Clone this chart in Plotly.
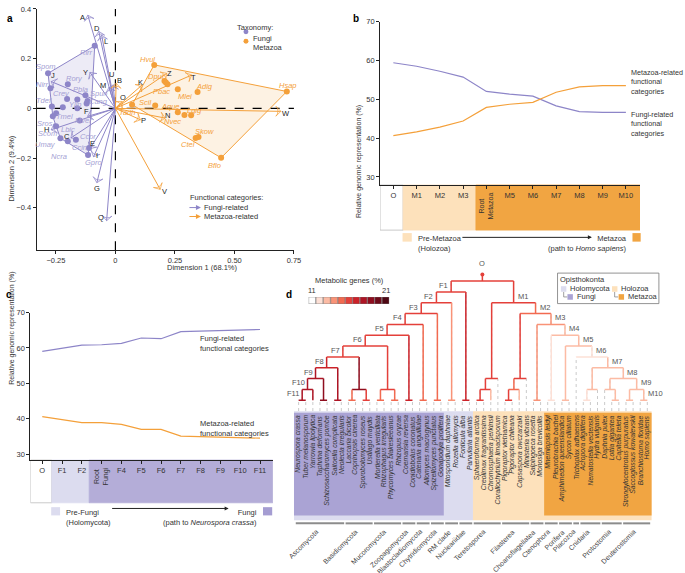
import plotly.graph_objects as go

# Abbildung: Biplot (a), Linien (b, c), Stammbaum (d)

W, H = 685, 573
FONT = "Liberation Sans, Arial, sans-serif"
PURPLE = "#8d85c8"
ORANGE = "#f4a03a"
TXT = "#333333"
FS = 7.5


def px(x):
    return x / W


def py(y):
    return 1 - y / H


# ---------------- Daten Panel a ----------------
fungi_code = ["Rirr", "Spom", "Nirr", "Rory", "Crev", "Spun", "Pbla", "Cang", "Amac", "Tdef", "Ylip",
              "Tmel", "Mver", "Sros", "Umay", "Ncra", "Ccin", "Lbic", "Ccor", "Gpro", "Scom"]
fungi_d1 = [-0.087, -0.283, -0.273, -0.200, -0.203, -0.160, -0.126, -0.117, -0.121, -0.267, -0.221,
            -0.249, -0.150, -0.249, -0.231, -0.200, -0.166, -0.263, -0.111, -0.115, -0.160]
fungi_d2 = [0.252, 0.141, 0.081, 0.097, 0.038, 0.036, 0.053, 0.030, 0.020, 0.008, 0.005,
            -0.020, -0.049, -0.072, -0.120, -0.132, -0.126, -0.032, -0.159, -0.188, 0.000]

met_code = ["Hvul", "Hsap", "Bflo", "Skow", "Ctel", "Dpul", "Spur", "Pbac", "Mlei", "Adig", "Scil",
            "Tadh", "Aque", "Nvec", "Lgig"]
met_d1 = [0.163, 0.720, 0.444, 0.349, 0.337, 0.206, 0.219, 0.212, 0.262, 0.345, 0.167,
          0.070, 0.262, 0.290, 0.318]
met_d2 = [0.175, 0.068, -0.199, -0.115, -0.119, 0.110, 0.097, 0.104, 0.077, 0.066, 0.012,
          0.015, -0.016, -0.027, -0.028]

fungi_lab = ["Rirr", "Spom", "Nirr", "Rory", "Crev", "Pbla", "Spun", "Cang", "Tdef", "Ylip", "Tmel",
             "Mver", "Sros", "Scom", "Lbic", "Ccor", "Umay", "Ccin", "Ncra", "Gpro"]
fungi_lab_x = [-0.122, -0.291, -0.308, -0.173, -0.227, -0.145, -0.069, -0.069, -0.298, -0.166, -0.215,
               -0.135, -0.294, -0.284, -0.200, -0.117, -0.294, -0.152, -0.238, -0.090]
fungi_lab_y = [0.224, 0.170, 0.098, 0.120, 0.061, 0.077, 0.061, 0.028, 0.032, 0.015, -0.032,
               -0.048, -0.059, -0.103, -0.086, -0.112, -0.145, -0.156, -0.195, -0.216]

met_lab = ["Hvul", "Hsap", "Dpul", "Pbac", "Adig", "Mlei", "Scil", "Aque", "Lgig", "Tadh", "Nvec",
           "Skow", "Ctel", "Bflo"]
met_lab_x = [0.133, 0.723, 0.170, 0.195, 0.373, 0.292, 0.126, 0.230, 0.334, 0.049, 0.240,
             0.373, 0.303, 0.417]
met_lab_y = [0.197, 0.092, 0.130, 0.068, 0.088, 0.048, 0.025, 0.008, -0.008, -0.016, -0.052,
             -0.092, -0.145, -0.228]

fun_arrow = ["A", "D", "L", "Y", "J", "M", "U", "F", "H", "C", "E", "I", "G", "Q"]
fun_arrow_x = [-0.116, -0.070, -0.058, -0.107, -0.270, -0.027, -0.010, -0.117, -0.270, -0.187,
               -0.107, -0.092, -0.078, -0.037]
fun_arrow_y = [0.375, 0.310, 0.295, 0.145, 0.108, 0.085, 0.095, -0.032, -0.086, -0.119,
               -0.162, -0.195, -0.299, -0.452]
met_arrow = ["B", "O", "K", "Z", "T", "W", "N", "P", "V"]
met_arrow_x = [0.003, 0.028, 0.112, 0.216, 0.320, 0.695, 0.209, 0.105, 0.188]
met_arrow_y = [0.101, 0.028, 0.094, 0.141, 0.134, -0.012, -0.039, -0.046, -0.326]

# Versatz der Pfeil-Buchstaben (Pixel)
fun_arrow_dx = [-5, -2, 4, -4, 2, -6, -2, -1, -5, -4, 3, 3, 0, -6]
fun_arrow_dy = [-2, 3, -6, 0, 6, 2, 10, 5, 0, 1, 5, 1, -6, 3]
met_arrow_dx = [3, 1, -2, 3, 2, 5, 2, 3, 4]
met_arrow_dy = [3, 4, 3, 0, -2, -2, 3, -1, -2]

# ---------------- Daten Panel b und c ----------------
b_nodes = ["O", "M1", "M2", "M3", "Root Metazoa", "M5", "M6", "M7", "M8", "M9", "M10"]
b_fungi = [59.4, 58.5, 57.2, 55.7, 52.0, 51.3, 50.8, 48.3, 46.8, 46.6, 46.6]
b_metazoa = [40.6, 41.6, 42.8, 44.4, 47.9, 48.7, 49.2, 51.8, 53.2, 53.5, 53.5]

c_nodes = ["O", "F1", "F2", "Root Fungi", "F4", "F5", "F6", "F7", "F8", "F9", "F10", "F11"]
c_fungi = [59.0, 60.0, 60.8, 60.9, 61.3, 62.8, 62.6, 64.6, 64.8, 64.9, 65.0, 65.2]
c_metazoa = [40.6, 39.7, 38.9, 38.9, 38.4, 37.0, 37.0, 35.1, 34.9, 34.8, 34.7, 34.5]

# ---------------- Daten Panel d ----------------
leaf_code = ["Ncra", "Tmel", "Ylip", "Tdef", "Spom", "Scom", "Nirr", "Lbic", "Ccin", "Sros", "Umay",
             "Mver", "Rirr", "Pbla", "Rory", "Crev", "Ccor", "Cang", "Amac", "Spun", "Gpro",
             "Mdap", "Rall", "Falb", "Patl", "Sarc", "Cfra", "Cper", "Clim", "Pvie", "Pchi",
             "Cowc", "Mvib", "Salp", "Mbre", "Mlei", "Pbac", "Aque", "Scil", "Tadh", "Adig",
             "Nvec", "Hvul", "Dpul", "Lgig", "Ctel", "Spur", "Skow", "Bflo", "Hsap"]
leaf_name = ["Neurospora crassa", "Tuber melanosporum", "Yarrowia lipolytica", "Taphrina deformans",
             "Schizosaccharomyces pombe", "Saitoella complicata", "Neolecta irregularis",
             "Laccaria bicolor", "Coprinopsis cinerea", "Sporobolomyces roseus", "Ustilago maydis",
             "Mortierella verticillata", "Rhizophagus irregularis", "Phycomyces blakesleeanus",
             "Rhizopus oryzae", "Coemansia reversa", "Conidiobolus coronatus", "Catenaria anguillulae",
             "Allomyces macrogynus", "Spizellomyces punctatus", "Gonapodya prolifera",
             "Mitosporidium daphniae", "Rozella allomycis", "Fonticula alba", "Parvularia atlantis",
             "Sphaeroforma arctica", "Creolimax fragrantissima", "Chromosphaera perkinsii",
             "Corallochytrium limacisporum", "Pigoraptor vietnamica", "Pigoraptor chileana",
             "Capsaspora owczarzaki", "Ministeria vibrans", "Salpingoeca rosetta", "Monosiga brevicollis",
             "Mnemiopsis leidyi", "Pleurobrachia bachei", "Amphimedon queenslandica", "Sycon ciliatum",
             "Trichoplax adhaerens", "Acropora digitifera", "Nematostella vectensis", "Hydra vulgaris",
             "Daphnia pulex", "Lottia gigantea", "Capitella teleta", "Strongylocentrotus purpuratus",
             "Saccoglossus kowalevskii", "Branchiostoma floridae", "Homo sapiens"]
leaf_pct = [18, 18, 18, 19, 19, 18, 18, 16, 16, 17, 17, 16, 16, 16, 16, 17, 17, 16, 16, 16, 16,
            14, 14, 15, 15, 14, 14, 13, 12, 13, 13, 13, 12, 13, 13,
            12, 12, 12, 12, 12, 12, 12, 12, 12, 12, 12, 12, 12, 12, 12]

node_name = ["F11", "F10", "tsp", "F9", "snr", "F8", "agar", "ustil", "basi", "F7", "mort", "mucr",
             "muco", "F6", "zoop", "F5", "blas", "F4", "chyt", "F3", "rm", "F2", "nucl", "F1",
             "ich", "ter2", "tere", "pig", "fil2", "fila", "M10", "amb", "M9", "lc", "prot", "M8",
             "ant", "cnid", "M7", "M6", "pori", "M5", "cten", "M4", "chno", "M3", "M2", "M1", "O"]
node_left = ["Ncra", "F11", "Tdef", "F10", "Scom", "F9", "Lbic", "Sros", "agar", "F8", "Mver", "Pbla",
             "mort", "F7", "Crev", "F6", "Cang", "F5", "Spun", "F4", "Mdap", "F3", "Falb", "F2",
             "Sarc", "ich", "ter2", "Pvie", "pig", "fil2", "Bflo", "Spur", "amb", "Lgig", "Dpul", "prot",
             "Adig", "ant", "cnid", "Tadh", "Aque", "pori", "Mlei", "cten", "Salp", "chno", "fila", "tere", "F1"]
node_right = ["Tmel", "Ylip", "Spom", "tsp", "Nirr", "snr", "Ccin", "Umay", "ustil", "basi", "Rirr", "Rory",
              "mucr", "muco", "Ccor", "zoop", "Amac", "blas", "Gpro", "chyt", "Rall", "rm", "Patl", "nucl",
              "Cfra", "Cper", "Clim", "Pchi", "Cowc", "Mvib", "Hsap", "Skow", "M10", "Ctel", "lc", "M9",
              "Nvec", "Hvul", "M8", "M7", "Scil", "M6", "Pbac", "M5", "Mbre", "M4", "M3", "M2", "M1"]
node_pct = [18, 18, 19, 18, 18, 17, 15, 16, 19, 16, 15, 15,
            16, 16, 17, 16, 15, 16, 15, 16, 14, 16, 17, 16,
            16, 16, 16, 16, 15, 16, 13, 13, 13, 13, 13, 13,
            12, 13, 13, 12, 13, 13, 12, 13, 14, 14, 15, 16, 16]

legend_pct = [11, 12, 13, 14, 15, 16, 17, 18, 19, 20, 21]
reds = ["#ffffff", "#fde0d6", "#fcbba4", "#f99377", "#f26a50", "#e4403a",
        "#cc2229", "#ae1525", "#8f0e1f", "#6e0a19", "#4e0713"]

groups = ["Ascomycota", "Basidiomycota", "Mucoromycota", "Zoopagomycota", "Blastocladiomycota",
          "Chytridiomycota", "RM clade", "Nucleariidae", "Teretosporea", "Filasterea",
          "Choanoflagellatea", "Ctenophora", "Porifera", "Placozoa", "Cnidaria", "Protostomia",
          "Deuterostomia"]
group_first = [0, 7, 11, 15, 17, 19, 21, 23, 25, 29, 33, 35, 37, 39, 40, 43, 46]
group_last = [6, 10, 14, 16, 18, 20, 22, 24, 28, 32, 34, 36, 38, 39, 42, 45, 49]


def red(v):
    return reds[int(v) - 11]


def arrow(x0, x1, y, col, size=0.8):
    # waagrechter Pfeil von x0 nach x1 (Pixel)
    return dict(x=px(x1), y=py(y), xref="paper", yref="paper", ax=x0 - x1, ay=0,
                axref="pixel", ayref="pixel", text="", showarrow=True, arrowhead=2,
                arrowsize=size, arrowwidth=1, arrowcolor=col)


def note(x, y, text, **kw):
    d = dict(x=px(x), y=py(y), xref="paper", yref="paper", text=text, showarrow=False,
             font=dict(size=FS, color=TXT))
    d.update(kw)
    return d


fig = go.Figure()
ann = []
shapes = []

# ================= Panel a =================
def hull(xs, ys):
    pts = sorted(set(zip(xs, ys)))

    def cross(o, a, b):
        return (a[0] - o[0]) * (b[1] - o[1]) - (a[1] - o[1]) * (b[0] - o[0])
    lower, upper = [], []
    for p in pts:
        while len(lower) >= 2 and cross(lower[-2], lower[-1], p) <= 0:
            lower.pop()
        lower.append(p)
    for p in reversed(pts):
        while len(upper) >= 2 and cross(upper[-2], upper[-1], p) <= 0:
            upper.pop()
        upper.append(p)
    h = lower[:-1] + upper
    return [p[0] for p in h], [p[1] for p in h]


for xs, ys, col, fill in [(fungi_d1, fungi_d2, PURPLE, "rgba(141,133,200,0.16)"),
                          (met_d1, met_d2, ORANGE, "rgba(244,160,58,0.14)")]:
    hx, hy = hull(xs, ys)
    fig.add_trace(go.Scatter(x=hx, y=hy, mode="lines", fill="toself", fillcolor=fill,
                             line=dict(color=col, width=1), hoverinfo="skip", showlegend=False))

# Nulllinien
fig.add_trace(go.Scatter(x=[0, 0], y=[-0.571, 0.4], mode="lines",
                         line=dict(color="black", width=1.2, dash="dash"), showlegend=False))
fig.add_trace(go.Scatter(x=[-0.331, 0.75], y=[0, 0], mode="lines",
                         line=dict(color="black", width=1.2, dash="dash"), showlegend=False))

for xs, ys, col in [(fun_arrow_x, fun_arrow_y, PURPLE), (met_arrow_x, met_arrow_y, ORANGE)]:
    for tx, ty in zip(xs, ys):
        fig.add_trace(go.Scatter(x=[0, tx], y=[0, ty], mode="lines+markers",
                                 line=dict(color=col, width=1),
                                 marker=dict(symbol="arrow-wide-open", size=[0, 7], angleref="previous",
                                             color=col, line=dict(color=col, width=1)),
                                 showlegend=False, hoverinfo="skip"))

fig.add_trace(go.Scatter(x=fungi_d1, y=fungi_d2, mode="markers", text=fungi_code,
                         marker=dict(color=PURPLE, size=6), showlegend=False))
fig.add_trace(go.Scatter(x=met_d1, y=met_d2, mode="markers", text=met_code,
                         marker=dict(color=ORANGE, size=6), showlegend=False))

for t, x, y in zip(fungi_lab, fungi_lab_x, fungi_lab_y):
    ann.append(dict(x=x, y=y, xref="x", yref="y", text="<i>%s</i>" % t, showarrow=False,
                    font=dict(size=FS, color="#a59fd4")))
for t, x, y in zip(met_lab, met_lab_x, met_lab_y):
    ann.append(dict(x=x, y=y, xref="x", yref="y", text="<i>%s</i>" % t, showarrow=False,
                    font=dict(size=FS, color="#f4a03a")))
for t, x, y, dx, dy in zip(fun_arrow + met_arrow, fun_arrow_x + met_arrow_x, fun_arrow_y + met_arrow_y,
                           fun_arrow_dx + met_arrow_dx, fun_arrow_dy + met_arrow_dy):
    ann.append(dict(x=x, y=y, xref="x", yref="y", text=t, showarrow=False, xshift=dx, yshift=dy,
                    font=dict(size=FS, color="#222")))

# Legenden Panel a
ann.append(note(237, 17, "Taxonomy:", xanchor="left"))
for i, (t, c) in enumerate([("Fungi", PURPLE), ("Metazoa", ORANGE)]):
    yy = 28 + 9.5 * i
    shapes.append(dict(type="circle", xref="paper", yref="paper", x0=px(246), x1=px(251),
                       y0=py(yy + 2.5), y1=py(yy - 2.5), fillcolor=c, line=dict(width=0)))
    ann.append(note(254, yy, t, xanchor="left"))
ann.append(note(190, 195, "Functional categories:", xanchor="left"))
for i, (t, c) in enumerate([("Fungi-related", PURPLE), ("Metazoa-related", ORANGE)]):
    yy = 205 + 9 * i
    ann.append(arrow(190, 203, yy, c, 1))
    ann.append(note(204, yy, t, xanchor="left"))
ann.append(note(167, 265, "Dimension 1 (68.1%)"))
ann.append(note(5, 130, "Dimension 2 (9.4%)", textangle=-90))

# ================= Panel b =================
xb = list(range(len(b_nodes)))
fig.add_trace(go.Scatter(x=xb, y=b_fungi, mode="lines", line=dict(color=PURPLE, width=1.2),
                         xaxis="x2", yaxis="y2", showlegend=False))
fig.add_trace(go.Scatter(x=xb, y=b_metazoa, mode="lines", line=dict(color=ORANGE, width=1.2),
                         xaxis="x2", yaxis="y2", showlegend=False))
for x0, x1, col in [(-0.57, 0.42, "white"), (0.42, 3.55, "#fde1bb"), (3.55, 10.61, "#f1a542")]:
    shapes.append(dict(type="rect", xref="x2", yref="paper", x0=x0, x1=x1, y0=py(227.7), y1=py(182.3),
                       fillcolor=col, line=dict(color="#bbbbbb" if col == "white" else col, width=0.8),
                       layer="below"))
ann.append(dict(x=4, y=py(188), xref="x2", yref="paper", text="Root<br>Metazoa", textangle=-90,
                showarrow=False, yanchor="top", font=dict(size=7, color=TXT)))
ann.append(note(635, 62, "Metazoa-related<br>functional<br>categories", align="left",
                xanchor="left", yanchor="top", font=dict(size=7.2, color=TXT)))
ann.append(note(635, 105, "Fungi-related<br>functional<br>categories", align="left",
                xanchor="left", yanchor="top", font=dict(size=7.2, color=TXT)))
ann.append(note(363, 100, "Relative genomic representation (%)", textangle=-90,
                font=dict(size=7, color=TXT)))
shapes.append(dict(type="rect", xref="paper", yref="paper", x0=px(406.7), x1=px(416), y0=py(239.3),
                   y1=py(230.7), fillcolor="#fde1bb", line=dict(width=0)))
shapes.append(dict(type="rect", xref="paper", yref="paper", x0=px(639), x1=px(647.3), y0=py(239.3),
                   y1=py(230.7), fillcolor="#f1a542", line=dict(width=0)))
ann.append(note(420, 230, "Pre-Metazoa<br>(Holozoa)", align="left", xanchor="left", yanchor="top"))
ann.append(note(635.5, 230, "Metazoa<br>(path to <i>Homo sapiens</i>)", align="right",
                xanchor="right", yanchor="top"))
ann.append(arrow(467, 598, 235, "#222"))

# ================= Panel c =================
xc = list(range(len(c_nodes)))
fig.add_trace(go.Scatter(x=xc, y=c_fungi, mode="lines", line=dict(color=PURPLE, width=1.2),
                         xaxis="x3", yaxis="y3", showlegend=False))
fig.add_trace(go.Scatter(x=xc, y=c_metazoa, mode="lines", line=dict(color=ORANGE, width=1.2),
                         xaxis="x3", yaxis="y3", showlegend=False))
for x0, x1, col in [(-0.6, 0.48, "white"), (0.48, 2.37, "#dcdcef"), (2.37, 11.65, "#b4add8")]:
    shapes.append(dict(type="rect", xref="x3", yref="paper", x0=x0, x1=x1, y0=py(502.3), y1=py(459.3),
                       fillcolor=col, line=dict(color="#bbbbbb" if col == "white" else col, width=0.8),
                       layer="below"))
ann.append(dict(x=3, y=py(465), xref="x3", yref="paper", text="Root<br>Fungi", textangle=-90,
                showarrow=False, yanchor="top", font=dict(size=7, color=TXT)))
ann.append(note(200, 330, "Fungi-related<br>functional categories", align="left",
                xanchor="left", yanchor="top"))
ann.append(note(200, 416, "Metazoa-related<br>functional categories", align="left",
                xanchor="left", yanchor="top"))
ann.append(note(6, 385, "Relative genomic representation (%)", textangle=-90,
                font=dict(size=7, color=TXT)))
shapes.append(dict(type="rect", xref="paper", yref="paper", x0=px(51.7), x1=px(60.7), y0=py(515),
                   y1=py(506.7), fillcolor="#dcdcef", line=dict(width=0)))
shapes.append(dict(type="rect", xref="paper", yref="paper", x0=px(265.7), x1=px(275), y0=py(515),
                   y1=py(506.7), fillcolor="#a59dd2", line=dict(width=0)))
ann.append(note(65, 506, "Pre-Fungi<br>(Holomycota)", align="left", xanchor="left", yanchor="top"))
ann.append(note(262, 506, "Fungi<br>(path to <i>Neurospora crassa</i>)", align="right",
                xanchor="right", yanchor="top"))
ann.append(arrow(113, 231, 508, "#222"))

# ================= Panel d =================
pos = {c: (i, -1) for i, c in enumerate(leaf_code)}
pct = {c: v for c, v in zip(leaf_code, leaf_pct)}
segs = {}
dotted_x, dotted_y = [], []


def add_seg(col, xs, ys):
    sx, sy = segs.setdefault(col, ([], []))
    sx.extend(xs + [None])
    sy.extend(ys + [None])


for n, l, r, v in zip(node_name, node_left, node_right, node_pct):
    (xl, hl), (xr, hr) = pos[l], pos[r]
    h = max(hl, hr) + 1
    pos[n] = ((xl + xr) / 2, h)
    pct[n] = v
    add_seg(red(v), [xl, xr], [h, h])
    for ch, (xx, hh) in [(l, (xl, hl)), (r, (xr, hr))]:
        dotted_x.extend([xx, xx, None])
        dotted_y.extend([hh, h, None])
        if hh < 0:
            if h > 0 and pct[ch] > 12:
                add_seg(red(pct[ch]), [xx, xx], [0, h])
        else:
            add_seg(red(pct[ch]), [xx, xx], [hh, h])

# Wurzel
rx, rh = pos["O"]
add_seg(red(pct["O"]), [rx, rx], [rh, rh + 0.6])

fig.add_trace(go.Scatter(x=dotted_x, y=dotted_y, mode="lines", line=dict(color="#bdbdbd", width=0.8, dash="dot"),
                         xaxis="x4", yaxis="y4", showlegend=False, hoverinfo="skip"))
for col, (sx, sy) in segs.items():
    if col == "#ffffff":
        continue
    fig.add_trace(go.Scatter(x=sx, y=sy, mode="lines", line=dict(color=col, width=1.5),
                             xaxis="x4", yaxis="y4", showlegend=False, hoverinfo="skip"))
fig.add_trace(go.Scatter(x=[rx], y=[rh + 0.6], mode="markers", marker=dict(symbol="circle", size=4,
                         color=red(pct["O"])), xaxis="x4", yaxis="y4", showlegend=False))

for n in node_name:
    if n == "O":
        ann.append(dict(x=rx, y=rh + 1.0, xref="x4", yref="y4", text="O", showarrow=False,
                        yanchor="bottom", font=dict(size=FS, color="#555")))
    elif n[0] in "FM" and n[1:].isdigit():
        x, h = pos[n]
        left = n[0] == "F"
        ann.append(dict(x=x, y=h, xref="x4", yref="y4", text=n, showarrow=False,
                        xanchor="right" if left else "left", yanchor="bottom",
                        xshift=-1 if left else 2, yshift=0, font=dict(size=FS, color="#555")))

# Hintergrund-Boxen
shapes += [
    dict(type="rect", xref="x4", yref="paper", x0=-0.65, x1=24.5, y0=py(520), y1=py(410),
         fillcolor="#dcdcef", line=dict(width=0), layer="below"),
    dict(type="rect", xref="x4", yref="paper", x0=-0.65, x1=20.4, y0=py(515), y1=py(411.5),
         fillcolor="#aaa3d4", line=dict(width=0), layer="below"),
    dict(type="rect", xref="x4", yref="paper", x0=24.5, x1=49.6, y0=py(520), y1=py(410),
         fillcolor="#fde1bb", line=dict(width=0), layer="below"),
    dict(type="rect", xref="x4", yref="paper", x0=34.5, x1=49.6, y0=py(515), y1=py(411.5),
         fillcolor="#f1a542", line=dict(width=0), layer="below"),
]
for i, nm in enumerate(leaf_name):
    ann.append(dict(x=i, y=py(412), xref="x4", yref="paper", text="<i>%s</i>" % nm, textangle=-90,
                    showarrow=False, yanchor="top", font=dict(size=6.8, color="#333")))

for g, a, b in zip(groups, group_first, group_last):
    shapes.append(dict(type="line", xref="x4", yref="paper", x0=a - 0.4, x1=b + 0.4, y0=py(523), y1=py(523),
                       line=dict(color="#8c8c8c", width=2)))
    ann.append(dict(x=(a + b) / 2 + 0.5, y=py(525), xref="x4", yref="paper", text=g, textangle=-45,
                    showarrow=False, xanchor="right", yanchor="top", font=dict(size=7, color="#444")))

# Legende Stoffwechselgene
fig.add_trace(go.Scatter(x=legend_pct, y=[0] * len(legend_pct), mode="markers",
                         marker=dict(symbol="square", size=7, color=[red(v) for v in legend_pct],
                                     line=dict(color="#777", width=0.6)),
                         xaxis="x5", yaxis="y5", showlegend=False))
for v in (legend_pct[0], legend_pct[-1]):
    ann.append(dict(x=v, y=py(288.5), xref="x5", yref="paper", text=str(v), showarrow=False,
                    font=dict(size=FS, color=TXT)))
ann.append(note(353, 278, "Metabolic genes (%)"))

# Legende Opisthokonta
shapes.append(dict(type="rect", xref="paper", yref="paper", x0=px(563.3), x1=px(665.7), y0=py(301.7),
                   y1=py(271), line=dict(color="#777", width=0.8)))
ann.append(note(613.5, 277.7, "Opisthokonta"))
for x0, yy, col, t in [(566.7, 287, "#dcdcef", "Holomycota"), (573.3, 295, "#aaa3d4", "Fungi"),
                       (618.3, 287, "#fde1bb", "Holozoa"), (625, 295, "#f1a542", "Metazoa")]:
    shapes.append(dict(type="rect", xref="paper", yref="paper", x0=px(x0), x1=px(x0 + 5.5),
                       y0=py(yy + 2.8), y1=py(yy - 2.8), fillcolor=col, line=dict(width=0)))
    ann.append(note(x0 + 7.5, yy, t, xanchor="left"))
for x0 in (569.5, 621):
    shapes.append(dict(type="path", xref="paper", yref="paper",
                       path="M %f %f L %f %f L %f %f" % (px(x0), py(290), px(x0), py(295), px(x0 + 3.5), py(295)),
                       line=dict(color="#777", width=0.7)))

# Panel-Buchstaben
for t, x, y in [("a", 5, 7), ("b", 360, 7), ("c", 4, 293), ("d", 292, 293)]:
    ann.append(note(x, y, "<b>%s</b>" % t, font=dict(size=10, color="black")))

ax_common = dict(showgrid=False, zeroline=False, linecolor="#222", linewidth=1, ticks="outside",
                 ticklen=3, tickcolor="#222", tickfont=dict(size=FS, color=TXT))

fig.update_layout(
    width=W, height=H, margin=dict(l=0, r=0, t=0, b=0), paper_bgcolor="white", plot_bgcolor="white",
    font=dict(family=FONT, size=FS, color=TXT), showlegend=False,
    xaxis=dict(domain=[px(37), px(297)], range=[-0.331, 0.75], showline=True,
               tickvals=[-0.25, 0, 0.25, 0.5, 0.75], ticktext=["\u22120.25", "0", "0.25", "0.50", "0.75"],
               anchor="y", **ax_common),
    yaxis=dict(domain=[py(248), py(5)], range=[-0.571, 0.4], showline=True,
               tickvals=[-0.4, -0.2, 0, 0.2, 0.4], ticktext=["\u22120.4", "\u22120.2", "0", "0.2", "0.4"],
               anchor="x", **ax_common),
    xaxis2=dict(domain=[px(384), px(646.7)], range=[-0.57, 10.61], showline=True,
                tickvals=xb, ticktext=[t if t != "Root Metazoa" else "" for t in b_nodes],
                anchor="y2", **ax_common),
    yaxis2=dict(domain=[py(182.3), py(17.7)], range=[27.9, 70], showline=True,
                tickvals=[30, 40, 50, 60, 70], anchor="x2", **ax_common),
    xaxis3=dict(domain=[px(30.7), px(275.7)], range=[-0.6, 11.65], showline=True,
                tickvals=xc, ticktext=[t if t != "Root Fungi" else "" for t in c_nodes],
                anchor="y3", **ax_common),
    yaxis3=dict(domain=[py(459.3), py(310.7)], range=[28.3, 70], showline=True,
                tickvals=[30, 40, 50, 60, 70], anchor="x3", **ax_common),
    xaxis4=dict(domain=[px(290), 1], range=[-1.627, 53.31], visible=False, anchor="y4"),
    yaxis4=dict(domain=[0, py(265)], range=[-15.96, 12.29], visible=False, anchor="x4"),
    xaxis5=dict(domain=[px(311.7), px(393.3)], range=[10.5, 21.5], visible=False, anchor="y5"),
    yaxis5=dict(domain=[py(302), py(295)], range=[-0.5, 0.5], visible=False, anchor="x5"),
    annotations=ann, shapes=shapes,
)

# Seitenrand entfernen, damit die Abbildung genau ins Fenster passt
fig.write_html("out.html", config={"displayModeBar": False},
               post_script="document.body.style.margin='0';document.body.style.overflow='hidden';")
